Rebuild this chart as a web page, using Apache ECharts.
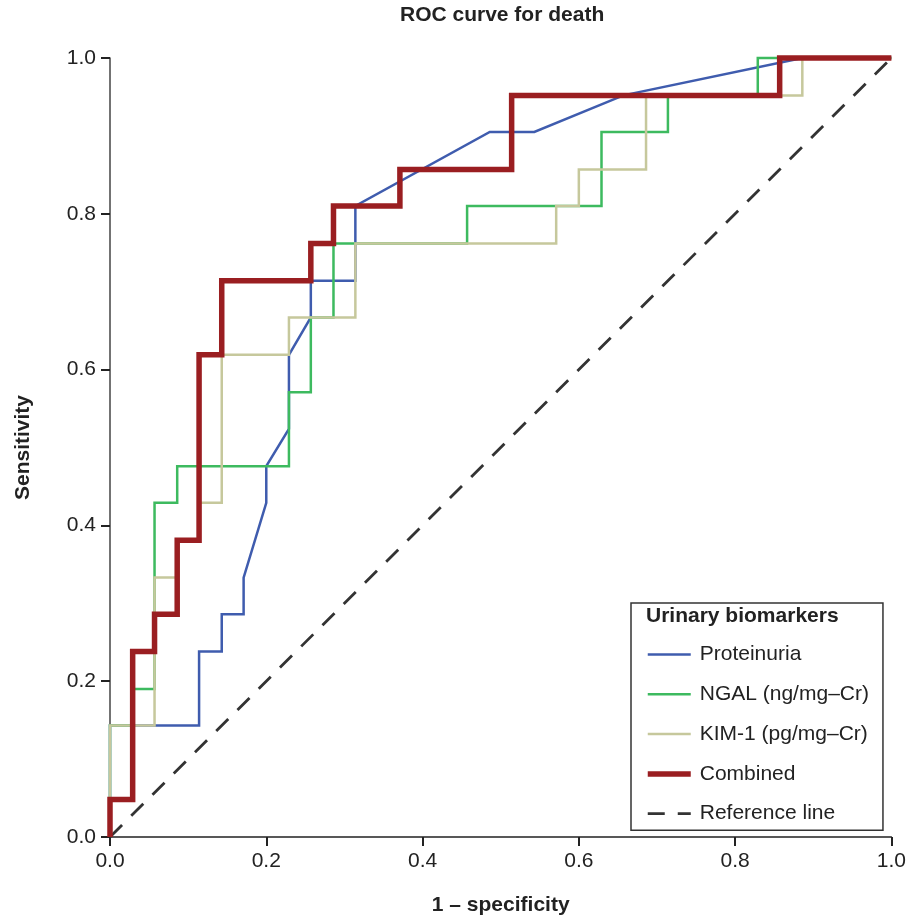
<!DOCTYPE html>
<html>
<head>
<meta charset="utf-8">
<script src="https://cdn.jsdelivr.net/npm/echarts@6/dist/echarts.min.js"></script>
<style>
html, body { margin: 0; padding: 0; background: #fff; }
#main { width: 909px; height: 921px; }
</style>
</head>
<body>
<div id="main"></div>
<script>
// ROC step curves, [1 - specificity, sensitivity]
var proteinuria = [[0, 0], [0, 0.143], [0.114, 0.143], [0.114, 0.238], [0.143, 0.238], [0.143, 0.286],
    [0.171, 0.286], [0.171, 0.333], [0.2, 0.429], [0.2, 0.476], [0.229, 0.524], [0.229, 0.619],
    [0.257, 0.667], [0.257, 0.714], [0.314, 0.714], [0.314, 0.810], [0.486, 0.905], [0.543, 0.905],
    [0.657, 0.952], [0.886, 1], [1, 1]];
var ngal = [[0, 0], [0, 0.143], [0.029, 0.143], [0.029, 0.190], [0.057, 0.190], [0.057, 0.429],
    [0.086, 0.429], [0.086, 0.476], [0.229, 0.476], [0.229, 0.571], [0.257, 0.571], [0.257, 0.667],
    [0.286, 0.667], [0.286, 0.762], [0.457, 0.762], [0.457, 0.810], [0.629, 0.810], [0.629, 0.905],
    [0.714, 0.905], [0.714, 0.952], [0.829, 0.952], [0.829, 1], [1, 1]];
var kim1 = [[0, 0], [0, 0.143], [0.057, 0.143], [0.057, 0.333], [0.086, 0.333], [0.086, 0.381],
    [0.114, 0.381], [0.114, 0.429], [0.143, 0.429], [0.143, 0.619], [0.229, 0.619], [0.229, 0.667],
    [0.314, 0.667], [0.314, 0.762], [0.571, 0.762], [0.571, 0.810], [0.6, 0.810], [0.6, 0.857],
    [0.686, 0.857], [0.686, 0.952], [0.886, 0.952], [0.886, 1], [1, 1]];
var combined = [[0, 0], [0, 0.048], [0.029, 0.048], [0.029, 0.238], [0.057, 0.238], [0.057, 0.286],
    [0.086, 0.286], [0.086, 0.381], [0.114, 0.381], [0.114, 0.619], [0.143, 0.619], [0.143, 0.714],
    [0.257, 0.714], [0.257, 0.762], [0.286, 0.762], [0.286, 0.810], [0.371, 0.810], [0.371, 0.857],
    [0.514, 0.857], [0.514, 0.952], [0.857, 0.952], [0.857, 1], [1, 1]];
var referenceLine = [[0, 0], [1, 1]];

var names = ['Proteinuria', 'NGAL (ng/mg–Cr)', 'KIM-1 (pg/mg–Cr)', 'Combined', 'Reference line'];

var font = '"Liberation Sans", Arial, Helvetica, sans-serif';
var chart = echarts.init(document.getElementById('main'));

function curve(name, data, color, width, dash) {
    return {
        name: name,
        type: 'line',
        data: data,
        symbol: 'none',
        clip: false,
        silent: true,
        color: color,
        lineStyle: { color: color, width: width, type: dash || 'solid', join: 'miter', cap: 'butt' }
    };
}

var option = {
    animation: false,
    backgroundColor: '#fff',
    title: [{
        text: 'ROC curve for death',
        left: 400,
        top: 5,
        padding: 0,
        textStyle: { fontFamily: font, fontSize: 21, fontWeight: 'bold', color: '#222' }
    }, {
        text: 'Urinary biomarkers',
        left: 646,
        top: 606,
        padding: 0,
        textStyle: { fontFamily: font, fontSize: 21, fontWeight: 'bold', color: '#222' }
    }],
    grid: { left: 110, right: 16, top: 58, bottom: 83 },
    legend: {
        orient: 'vertical',
        left: 631,
        top: 603,
        padding: [41, 14, 6, 14],
        borderColor: '#333',
        borderWidth: 1.5,
        itemWidth: 43,
        itemHeight: 14,
        itemGap: 18.8,
        selectedMode: false,
        itemStyle: { opacity: 0, color: 'rgba(0,0,0,0)', borderColor: 'rgba(0,0,0,0)', borderWidth: 0 },
        lineStyle: { width: 'inherit' },
        textStyle: { fontFamily: font, fontSize: 21, color: '#222', lineHeight: 20, padding: [0, 0, 0, 4] },
        data: names
    },
    xAxis: {
        type: 'value',
        min: 0,
        max: 1,
        interval: 0.2,
        name: '1 – specificity',
        nameLocation: 'middle',
        nameGap: 58,
        nameTextStyle: { fontFamily: font, fontSize: 21, fontWeight: 'bold', color: '#222' },
        axisLine: { lineStyle: { color: '#222', width: 1.5 } },
        axisTick: { length: 9, lineStyle: { color: '#222', width: 2 } },
        axisLabel: { margin: 14, fontFamily: font, fontSize: 21, color: '#222',
            formatter: function (v) { return v.toFixed(1); } },
        splitLine: { show: false }
    },
    yAxis: {
        type: 'value',
        min: 0,
        max: 1,
        interval: 0.2,
        name: 'Sensitivity',
        nameLocation: 'middle',
        nameGap: 76,
        nameTextStyle: { fontFamily: font, fontSize: 21, fontWeight: 'bold', color: '#222' },
        axisLine: { show: true, lineStyle: { color: '#444', width: 1.5 } },
        axisTick: { show: true, length: 9, lineStyle: { color: '#222', width: 2 } },
        axisLabel: { margin: 14, fontFamily: font, fontSize: 21, color: '#222',
            formatter: function (v) { return v.toFixed(1); } },
        splitLine: { show: false }
    },
    series: [
        curve('Reference line', referenceLine, '#333', 2.8, [17, 13]),
        curve('Proteinuria', proteinuria, '#3f5cae', 2.5),
        curve('NGAL (ng/mg–Cr)', ngal, '#3dba5f', 2.5),
        curve('KIM-1 (pg/mg–Cr)', kim1, '#c6c89c', 2.5),
        curve('Combined', combined, '#9a1e21', 5.5)
    ]
};

chart.setOption(option);
</script>
</body>
</html>
